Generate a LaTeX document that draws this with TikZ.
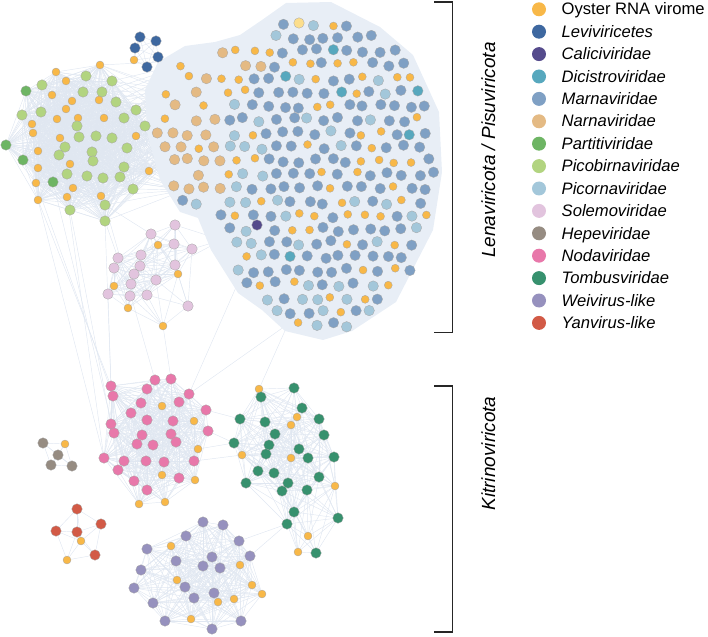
\documentclass[tikz,border=0pt]{standalone}
\usepackage{fontspec}
\setmainfont{Liberation Sans}
\usepackage{tikz}
\usetikzlibrary{backgrounds}
\definecolor{oysCol}{RGB}{248,184,72}
\definecolor{paleCol}{RGB}{252,222,140}
\definecolor{levCol}{RGB}{62,104,160}
\definecolor{calCol}{RGB}{85,75,140}
\definecolor{dicCol}{RGB}{87,168,190}
\definecolor{marCol}{RGB}{127,160,196}
\definecolor{narCol}{RGB}{228,186,132}
\definecolor{parCol}{RGB}{110,181,100}
\definecolor{pcbCol}{RGB}{178,212,128}
\definecolor{pcrCol}{RGB}{163,199,218}
\definecolor{solCol}{RGB}{226,196,222}
\definecolor{hepCol}{RGB}{150,140,130}
\definecolor{nodCol}{RGB}{232,120,170}
\definecolor{tomCol}{RGB}{55,145,110}
\definecolor{weiCol}{RGB}{150,145,190}
\definecolor{yanCol}{RGB}{210,90,70}
\definecolor{linkCol}{RGB}{224,231,241}
\definecolor{hullCol}{RGB}{232,238,246}
\tikzstyle{vdot} = [circle, draw=black!35, line width=0.3pt, inner sep=0pt, minimum size=10.5pt]
\tikzstyle{cOys} = [vdot, fill=oysCol, minimum size=8pt]
\tikzstyle{cLev} = [vdot, fill=levCol]
\tikzstyle{cCal} = [vdot, fill=calCol]
\tikzstyle{cDic} = [vdot, fill=dicCol]
\tikzstyle{cMar} = [vdot, fill=marCol]
\tikzstyle{cNar} = [vdot, fill=narCol]
\tikzstyle{cPar} = [vdot, fill=parCol]
\tikzstyle{cPcb} = [vdot, fill=pcbCol]
\tikzstyle{cPcr} = [vdot, fill=pcrCol]
\tikzstyle{cSol} = [vdot, fill=solCol]
\tikzstyle{cHep} = [vdot, fill=hepCol]
\tikzstyle{cNod} = [vdot, fill=nodCol]
\tikzstyle{cTom} = [vdot, fill=tomCol]
\tikzstyle{cWei} = [vdot, fill=weiCol]
\tikzstyle{cYan} = [vdot, fill=yanCol]
\tikzstyle{link} = [draw=linkCol, line width=0.45pt]
\tikzstyle{bracket} = [draw=black!85, line width=1.3pt]
\tikzstyle{legdot} = [circle, inner sep=0pt, minimum size=14pt]
\tikzstyle{legtxt} = [anchor=base west, inner sep=0pt, font=\fontsize{16.6}{20}\selectfont\itshape]
\tikzstyle{phylum} = [rotate=90, anchor=base, inner sep=0pt, font=\fontsize{19}{22}\selectfont\itshape]

% links between members of one cluster closer than #3
\newcommand{\meshlinks}[3]{%
  \foreach \xa/\ya/\ca [count=\ka] in #1 {
    \foreach \xb/\yb/\cb [count=\kb] in #1 {
      \ifnum\kb>\ka
        \pgfmathtruncatemacro\near{veclen(\xa-\xb,\ya-\yb)<#3}
        \ifnum\near=1 \draw[link] (#2\ka) -- (#2\kb); \fi
      \fi
    }
  }
}

\def\greenList{26/91/cPar, 42/85/cPcb, 56/72/cOys, 86/76/cPcb, 100/65/cOys, 66/81/cOys, 112/81/cPcb, 83/92/cPcb, 102/92/cPcb, 52/95/cOys,
  72/101/cOys, 99/100/cOys, 116/102/cPcb, 136/110/cPcb, 22/115/cPcb, 41/112/cPcb, 66/109/cOys, 78/118/cOys, 104/118/cOys, 124/118/cPcb,
  32/124/cOys, 57/119/cOys, 77/126/cPcb, 33/133/cOys, 145/126/cPcb, 136/136/cOys, 79/137/cPcb, 96/136/cPcb, 112/138/cPcb, 60/138/cOys,
  6/145/cPar, 65/147/cPcb, 127/148/cPcb, 38/151/cOys, 59/155/cPcb, 92/152/cPcb, 93/161/cPcb, 23/160/cPar, 70/164/cOys, 124/167/cPcb,
  38/168/cOys, 149/171/cOys, 67/174/cPcb, 87/176/cPcb, 103/178/cPcb, 120/177/cPcb, 53/182/cPar, 36/183/cOys, 73/188/cOys, 133/189/cPcb,
  67/197/cOys, 101/196/cOys, 38/200/cOys, 105/205/cPcb, 70/210/cPcb, 105/221/cPcb}
\def\levList{140/37/cLev, 156/41/cLev, 135/48/cLev, 158/57/cLev, 147/67/cLev, 134/60/cOys}
\def\solList{151/234/cSol, 175/225/cSol, 158/245/cOys, 174/244/cSol, 192/249/cSol, 118/258/cSol, 141/255/cSol, 114/268/cSol, 140/266/cSol,
  175/265/cSol, 178/274/cOys, 134/274/cSol, 156/280/cSol, 131/284/cSol, 114/286/cOys, 108/294/cSol, 130/296/cSol, 147/295/cSol,
  128/308/cOys, 188/306/cSol, 163/326/cOys}
\def\nodList{111/386/cNod, 113/396/cNod, 155/380/cNod, 171/379/cNod, 147/389/cNod, 189/394/cNod, 141/403/cNod, 162/406/cOys, 179/402/cNod,
  206/410/cNod, 131/413/cNod, 147/420/cNod, 173/421/cNod, 194/421/cOys, 208/431/cNod, 111/424/cNod, 114/433/cNod, 142/435/cNod,
  171/434/cNod, 137/444/cNod, 153/445/cNod, 176/442/cNod, 198/449/cOys, 104/458/cNod, 124/461/cNod, 146/461/cNod, 164/462/cNod,
  194/461/cNod, 118/470/cNod, 162/475/cOys, 179/478/cNod, 195/480/cOys, 134/481/cNod, 147/490/cNod, 139/504/cOys, 165/502/cOys}
\def\tomList{259/389/cOys, 294/388/cTom, 261/397/cTom, 302/408/cTom, 297/417/cOys, 240/419/cTom, 265/422/cTom, 291/425/cOys, 319/419/cTom,
  275/434/cTom, 324/435/cTom, 234/443/cTom, 269/445/cTom, 299/449/cTom, 266/454/cTom, 242/455/cOys, 291/458/cOys, 308/458/cTom,
  334/457/cTom, 258/471/cTom, 274/473/cTom, 319/477/cTom, 246/483/cTom, 288/483/cTom, 282/491/cTom, 307/490/cTom, 335/486/cOys,
  294/512/cTom, 338/518/cTom, 287/524/cTom, 308/536/cOys, 298/552/cOys, 316/553/cTom}
\def\weiList{203/522/cWei, 223/525/cWei, 186/536/cWei, 171/546/cOys, 239/541/cWei, 147/549/cWei, 250/556/cWei, 176/561/cWei, 212/557/cWei,
  203/566/cWei, 220/568/cWei, 240/565/cOys, 141/570/cWei, 177/580/cOys, 185/587/cWei, 252/585/cOys, 134/588/cWei, 214/593/cWei,
  194/598/cWei, 262/594/cOys, 234/599/cOys, 218/602/cOys, 153/603/cWei, 191/619/cOys, 165/621/cWei, 241/621/cWei, 212/629/cWei}
\def\hepList{43/443/cHep, 65/444/cOys, 58/455/cHep, 51/465/cHep, 72/466/cHep}
\def\yanList{77/509/cYan, 101/524/cYan, 56/531/cYan, 77/532/cYan, 81/541/cOys, 95/555/cYan, 67/560/cOys}

\begin{document}
\begin{tikzpicture}[x=1pt, y=-1pt]
    \useasboundingbox (0,0) rectangle (708,636);

    % Lenaviricota / Pisuviricota main cluster
    \fill[hullCol] (145,90) -- (158,62) -- (185,46) -- (215,42) -- (240,35) -- (262,20) -- (286,3) -- (331,2) -- (380,27)
        -- (413,55) -- (439,112) -- (442,172) -- (433,230) -- (396,302) -- (352,331) -- (323,340) -- (285,331) -- (262,310)
        -- (238,293) -- (211,250) -- (198,218) -- (180,212) -- (160,180) -- (147,132) -- cycle;
    \node[cCal] (cali) at (257,225) {};
    \node[vdot, fill=paleCol] (pale) at (299,23) {};
    \pgfmathsetseed{11}
    \foreach \j in {0,...,24} {
        \foreach \i in {0,...,19} {
            \pgfmathsetmacro\px{150+\i*15.8+mod(\j,2)*7.9+(rnd-0.5)*5}
            \pgfmathsetmacro\py{10+\j*13.7+(rnd-0.5)*5}
            \pgfmathsetmacro\rr{rnd}
            \pgfmathsetmacro\rs{rnd}
            \pgfmathsetmacro\ea{((\px-325)/110)*((\px-325)/110)+((\py-172)/160)*((\py-172)/160)}
            \pgfmathsetmacro\eb{((\px-197)/44)*((\px-197)/44)+((\py-128)/78)*((\py-128)/78)}
            \pgfmathsetmacro\ec{((\px-237)/24)*((\px-237)/24)+((\py-64)/18)*((\py-64)/18)}
            \pgfmathsetmacro\gap{min(((\px-257)/10)*((\px-257)/10)+((\py-225)/10)*((\py-225)/10),((\px-299)/10)*((\px-299)/10)+((\py-23)/10)*((\py-23)/10))}
            \pgfmathtruncatemacro\tan{((\px<226)&&(\py<195))||((\px<262)&&(\py<72))}
            \pgfmathtruncatemacro\kind{(((\ea<1)||(\eb<1)||(\ec<1))&&(\gap>1.1)&&((\tan==0)||(\rs<0.62))) ? ((\rr<0.23) ? 1 : ((\tan==1) ? 2 : ((\rs<0.035) ? 5 : ((((\px<268)&&(\py>125))||(\py>285)) ? ((\rs<0.68) ? 3 : 4) : ((\rs<0.2) ? 3 : 4))))) : 0}
            \ifcase\kind
            \or \node[cOys] (m\i-\j) at (\px,\py) {};
            \or \node[cNar] (m\i-\j) at (\px,\py) {};
            \or \node[cPcr] (m\i-\j) at (\px,\py) {};
            \or \node[cMar] (m\i-\j) at (\px,\py) {};
            \or \node[cDic] (m\i-\j) at (\px,\py) {};
            \fi
        }
    }

    % smaller clusters
    \foreach \x/\y/\c [count=\k] in \greenList {\node[\c] (gr\k) at (\x,\y) {};}
    \foreach \x/\y/\c [count=\k] in \levList {\node[\c] (lev\k) at (\x,\y) {};}
    \foreach \x/\y/\c [count=\k] in \solList {\node[\c] (sol\k) at (\x,\y) {};}
    \foreach \x/\y/\c [count=\k] in \nodList {\node[\c] (nod\k) at (\x,\y) {};}
    \foreach \x/\y/\c [count=\k] in \tomList {\node[\c] (tom\k) at (\x,\y) {};}
    \foreach \x/\y/\c [count=\k] in \weiList {\node[\c] (wei\k) at (\x,\y) {};}
    \foreach \x/\y/\c [count=\k] in \hepList {\node[\c] (hep\k) at (\x,\y) {};}
    \foreach \x/\y/\c [count=\k] in \yanList {\node[\c] (yan\k) at (\x,\y) {};}

    \begin{scope}[on background layer]
        \meshlinks{\greenList}{gr}{95}
        \meshlinks{\levList}{lev}{40}
        \meshlinks{\solList}{sol}{58}
        \meshlinks{\nodList}{nod}{80}
        \meshlinks{\tomList}{tom}{70}
        \meshlinks{\weiList}{wei}{85}
        \meshlinks{\hepList}{hep}{40}
        \meshlinks{\yanList}{yan}{45}
        % between clusters
        \coordinate (fanA) at (175,90);
        \coordinate (fanB) at (190,130);
        \coordinate (fanC) at (170,160);
        \coordinate (fanD) at (200,60);
        \coordinate (fanE) at (215,110);
        \coordinate (fanF) at (185,190);
        \coordinate (lbA) at (222,240);
        \coordinate (lbB) at (288,324);
        \coordinate (lbC) at (237,285);
        \foreach \g in {5,7,9,12,13,14,19,20,25,26,28,29,33,36,37,40,42,44,45,46,50,52,54,56} {
            \foreach \f in {fanA,fanB,fanC,fanD,fanE,fanF} {\draw[link] (gr\g) -- (\f);}
        }
        \draw[link] (gr53) -- (nod1);
        \draw[link] (gr48) -- (nod2);
        \draw[link] (gr55) -- (nod16);
        \draw[link] (gr51) -- (nod24);
        \draw[link] (gr53) -- (nod24);
        \draw[link] (gr56) -- (nod1);
        \draw[link] (gr54) -- (nod3);
        \draw[link] (gr47) -- (nod17);
        \draw[link] (gr56) -- (sol6);
        \draw[link] (gr54) -- (sol1);
        \draw[link] (sol5) -- (lbA);
        \draw[link] (sol2) -- (lbA);
        \draw[link] (sol10) -- (lbA);
        \draw[link] (sol16) -- (nod1);
        \draw[link] (sol21) -- (nod4);
        \draw[link] (lbB) -- (nod6);
        \draw[link] (lbC) -- (nod6);
        \draw[link] (lbB) -- (tom1);
        \draw[link] (nod10) -- (tom6);
        \draw[link] (nod23) -- (tom12);
        \draw[link] (nod28) -- (tom16);
        \draw[link] (nod15) -- (tom12);
        \draw[link] (tom30) -- (wei7);
        \draw[link] (tom30) -- (wei5);
    \end{scope}

    % phylum brackets
    \draw[bracket] (434,2) -- (452.5,2) -- (452.5,332.5) -- (434,332.5);
    \draw[bracket] (434,386) -- (452.5,386) -- (452.5,632) -- (434,632);
    \node[phylum] (lenapisu) at (495,150) {Lenaviricota / Pisuviricota};
    \node[phylum] (kitrino) at (495,453.5) {Kitrinoviricota};

    % legend
    \node[legdot, fill=oysCol] (lg0) at (539,9.3) {};
    \node[legtxt, font=\fontsize{16.6}{20}\selectfont] (lt0) at (561.5,15) {Oyster RNA virome};
    \foreach \col/\name [count=\k] in {levCol/Leviviricetes, calCol/Caliciviridae, dicCol/Dicistroviridae, marCol/Marnaviridae,
        narCol/Narnaviridae, parCol/Partitiviridae, pcbCol/Picobirnaviridae, pcrCol/Picornaviridae, solCol/Solemoviridae,
        hepCol/Hepeviridae, nodCol/Nodaviridae, tomCol/Tombusviridae, weiCol/Weivirus-like, yanCol/Yanvirus-like} {
        \node[legdot, fill=\col] (lg\k) at (539,{9.3+22.4*\k}) {};
        \node[legtxt] (lt\k) at (561.5,{15+22.4*\k}) {\name};
    }
\end{tikzpicture}
\end{document}
